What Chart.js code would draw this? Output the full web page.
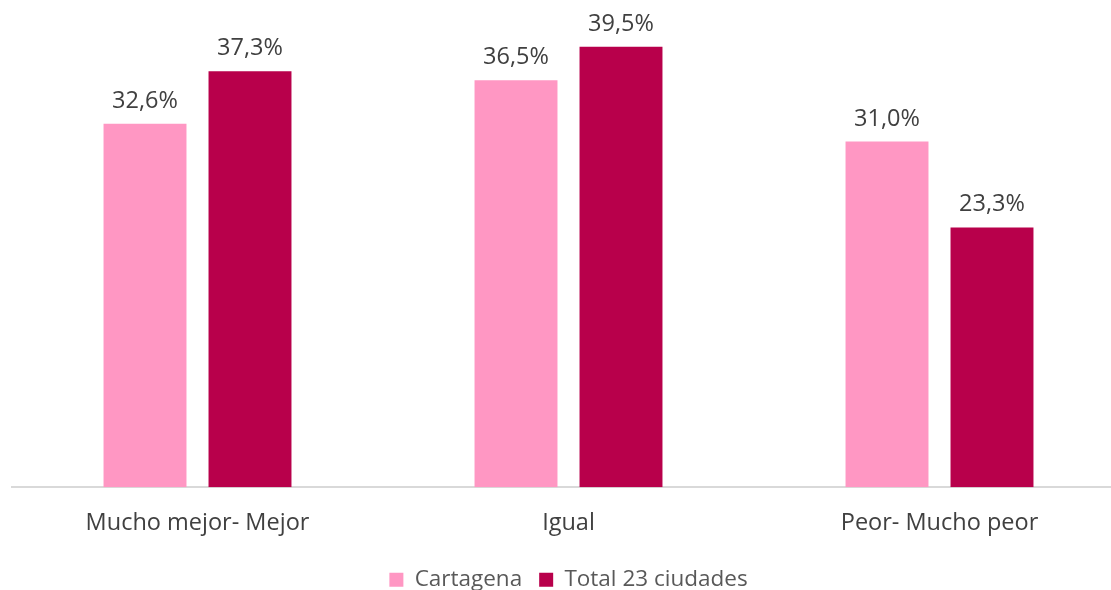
<!DOCTYPE html>
<html>
<head>
<meta charset="utf-8">
<script src="https://cdn.jsdelivr.net/npm/chart.js@4/dist/chart.umd.min.js"></script>
<style>
  html, body { margin: 0; padding: 0; background: #fff; overflow: hidden; }
  #wrap { width: 1111px; height: 590px; overflow: hidden; }
  #chart { display: block; }
</style>
</head>
<body>
<div id="wrap"><canvas id="chart" width="1125" height="601"></canvas></div>
<script>
const categories = ["Mucho mejor- Mejor", "Igual", "Peor- Mucho peor"];
const seriesNames = ["Cartagena", "Total 23 ciudades"];
const cartagena = [32.6, 36.5, 31.0];
const total23 = [37.3, 39.5, 23.3];
const colors = ["#FF97C3", "#B8004B"];

const fontFamily = "'Open Sans', 'Noto Sans', sans-serif";

// etiquetas de valor encima de cada barra
const valueLabels = {
  id: "valueLabels",
  afterDatasetsDraw(chart) {
    const ctx = chart.ctx;
    ctx.save();
    ctx.font = "23.5px " + fontFamily;
    ctx.fillStyle = "#404040";
    ctx.textAlign = "center";
    ctx.textBaseline = "bottom";
    chart.data.datasets.forEach((ds, i) => {
      chart.getDatasetMeta(i).data.forEach((bar, j) => {
        const txt = ds.data[j].toFixed(1).replace(".", ",") + "%";
        ctx.fillText(txt, bar.x, bar.y - 11);
      });
    });
    ctx.restore();
  }
};

new Chart(document.getElementById("chart"), {
  type: "bar",
  data: {
    labels: categories,
    datasets: [
      { label: seriesNames[0], data: cartagena, backgroundColor: colors[0] },
      { label: seriesNames[1], data: total23, backgroundColor: colors[1] }
    ]
  },
  options: {
    responsive: false,
    animation: false,
    categoryPercentage: 0.566,
    barPercentage: 0.79,
    layout: { padding: { left: 12, right: 0, top: 0, bottom: 0 } },
    scales: {
      x: {
        grid: { display: false },
        border: { display: true, color: "#d9d9d9", width: 2 },
        ticks: { color: "#404040", font: { size: 23.5, family: fontFamily }, padding: 14 }
      },
      y: {
        display: false,
        min: 0,
        max: 43.7
      }
    },
    plugins: {
      legend: {
        position: "bottom",
        labels: {
          color: "#595959",
          font: { size: 22.5, family: fontFamily },
          boxWidth: 14,
          boxHeight: 14,
          padding: 17
        }
      },
      tooltip: { enabled: false }
    }
  },
  plugins: [valueLabels]
});
</script>
</body>
</html>
